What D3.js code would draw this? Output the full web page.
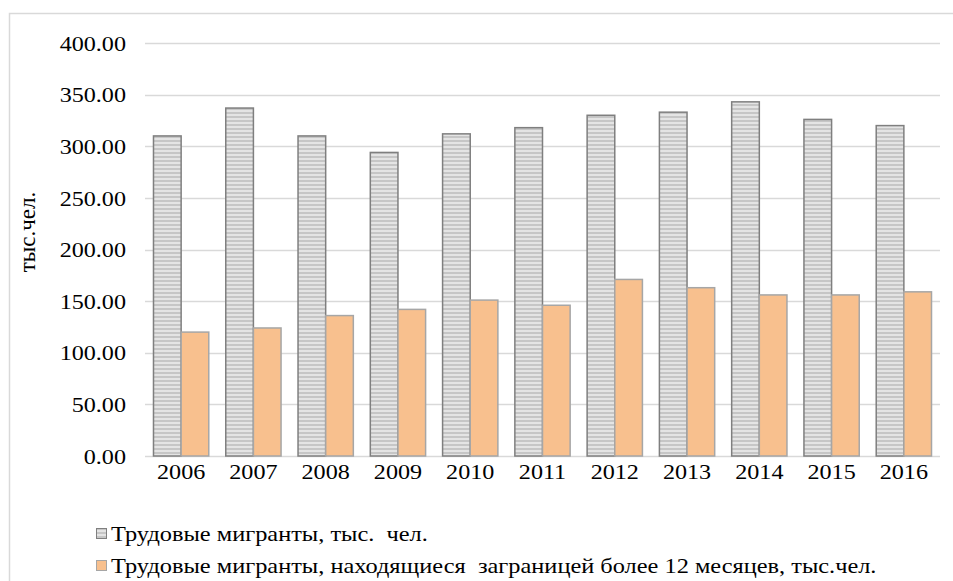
<!DOCTYPE html>
<html><head><meta charset="utf-8">
<script src="https://cdn.jsdelivr.net/npm/d3@7"></script>
<style>body{margin:0;background:#fff}svg{display:block}</style>
</head><body>
<svg id="c" width="953" height="581"></svg>
<script>
const years = ["2006","2007","2008","2009","2010","2011","2012","2013","2014","2015","2016"];
const migrants = [310, 337, 310, 294, 312, 318, 330, 333, 343, 326, 320];
const abroad12 = [120, 124, 136, 142, 151, 146, 171, 163, 156, 156, 159];
const yTicks = [0, 50, 100, 150, 200, 250, 300, 350, 400];
const seriesNames = ["Трудовые мигранты, тыс.  чел.", "Трудовые мигранты, находящиеся  заграницей более 12 месяцев, тыс.чел."];
const yTitle = "тыс.чел.";

const svg = d3.select("#c");
const font = "'Liberation Serif','Times New Roman',serif";
const sx = 1.15;

// outer border
svg.append("rect").attr("x", 9.5).attr("y", 13.5).attr("width", 960).attr("height", 600)
  .attr("fill", "none").attr("stroke", "#d9d9d9").attr("stroke-width", 1.5);

// pattern
const defs = svg.append("defs");
const pat = defs.append("pattern").attr("id", "stripes").attr("patternUnits", "userSpaceOnUse")
  .attr("width", 8).attr("height", 4);
pat.append("rect").attr("width", 8).attr("height", 4).attr("fill", "#e4e4e4");
pat.append("rect").attr("y", 0).attr("width", 8).attr("height", 2).attr("fill", "#c6c6c6");

const pLeft = 145, pRight = 940, pTop = 43, pBottom = 456;
const x = d3.scaleBand().domain(years).range([pLeft, pRight]).paddingInner(0.235).paddingOuter(0.1175);
const y = d3.scaleLinear().domain([0, 400]).range([pBottom, pTop]);

// gridlines
svg.append("g").selectAll("line").data(yTicks).join("line")
  .attr("x1", pLeft).attr("x2", pRight)
  .attr("y1", d => Math.round(y(d)) + 0.5).attr("y2", d => Math.round(y(d)) + 0.5)
  .attr("stroke", "#d9d9d9").attr("stroke-width", 1.5);

// y axis labels
const yAxis = d3.axisLeft(y).tickValues(yTicks).tickFormat(d3.format(".2f")).tickSize(0).tickPadding(0);
const ya = svg.append("g").attr("transform", `translate(126,0)`).call(yAxis);
ya.select(".domain").remove();
ya.selectAll("text").attr("font-family", font).attr("font-size", 21).attr("fill", "#000")
  .attr("dy", "0.34em").attr("transform", `scale(${sx},1)`);

// x axis labels
const xAxis = d3.axisBottom(x).tickSize(0).tickPadding(0);
const xa = svg.append("g").attr("transform", `translate(0,${pBottom + 7})`).call(xAxis);
xa.select(".domain").remove();
xa.selectAll("text").attr("font-family", font).attr("font-size", 21).attr("fill", "#000")
  .attr("dy", "0.75em").attr("transform", `scale(${sx},1)`);

const bw = x.bandwidth() / 2;
const g = svg.append("g");
g.selectAll("rect.m").data(years).join("rect").attr("class", "m")
  .attr("x", (d) => x(d)).attr("width", bw)
  .attr("y", (d, i) => y(migrants[i])).attr("height", (d, i) => pBottom - y(migrants[i]))
  .attr("fill", "url(#stripes)").attr("stroke", "#7f7f7f").attr("stroke-width", 1.5);
g.selectAll("rect.a").data(years).join("rect").attr("class", "a")
  .attr("x", (d) => x(d) + bw).attr("width", bw)
  .attr("y", (d, i) => y(abroad12[i])).attr("height", (d, i) => pBottom - y(abroad12[i]))
  .attr("fill", "#f8c08e").attr("stroke", "#a6a6a6").attr("stroke-width", 1.5);

// y title
svg.append("text").attr("transform", "translate(35,232) rotate(-90)")
  .attr("text-anchor", "middle").attr("font-family", font).attr("font-size", 23).text(yTitle);

// legend
const leg = [{fill: "url(#stripes)", stroke: "#7f7f7f", y: 534}, {fill: "#f8c08e", stroke: "#a6a6a6", y: 566}];
leg.forEach((l, i) => {
  svg.append("rect").attr("x", 96.5).attr("y", l.y - 5.5).attr("width", 10).attr("height", 10)
    .attr("fill", l.fill).attr("stroke", l.stroke).attr("stroke-width", 1);
  svg.append("text").attr("transform", `translate(111,${l.y + 7}) scale(1.16,1)`)
    .attr("font-family", font).attr("font-size", 21)
    .attr("xml:space", "preserve").style("white-space", "pre").text(seriesNames[i]);
});
</script>
</body></html>
